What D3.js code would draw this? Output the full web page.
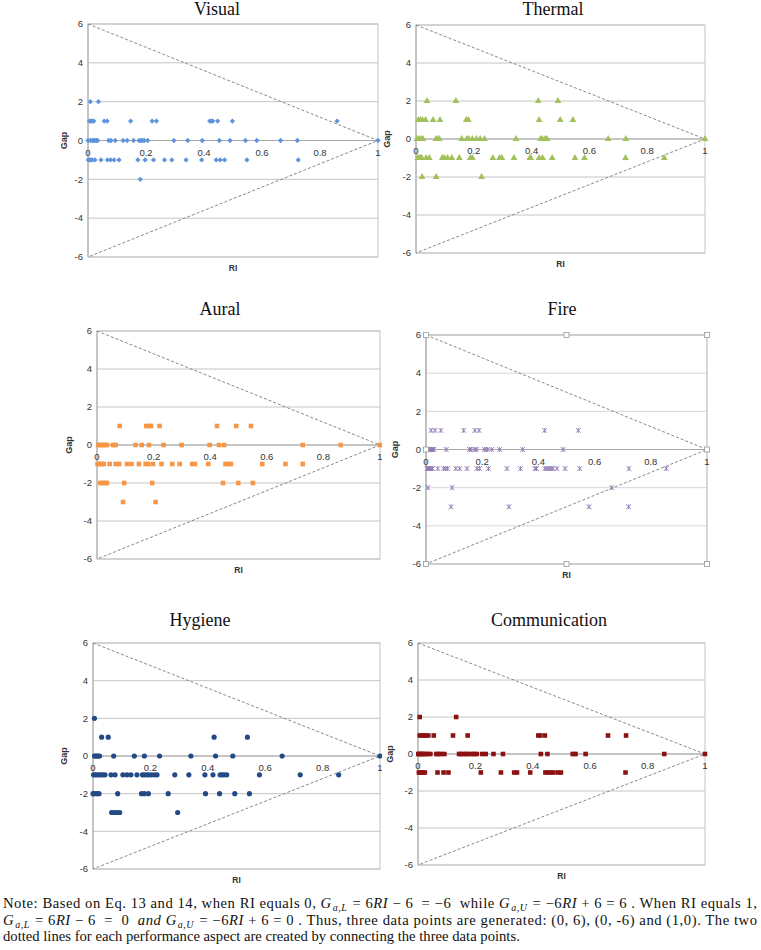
<!DOCTYPE html>
<html lang="en">
<head>
<meta charset="UTF-8">
<title>Gap vs RI</title>
<script src="https://cdn.jsdelivr.net/npm/d3@7"></script>
<style>
    body { margin: 0; background: #fff; }
    text { white-space: pre; }
</style>
</head>
<body>
<div id="chart"></div>
<script>
// ---- data: [RI, Gap] ----
const visualPts = [
    [0.008, 2], [0.036, 2],
    [0.005, 1], [0.01, 1], [0.015, 1], [0.02, 1], [0.056, 1], [0.066, 1], [0.147, 1], [0.221, 1], [0.236, 1],
    [0.42, 1], [0.425, 1], [0.43, 1], [0.447, 1], [0.498, 1], [0.859, 1],
    [0, 0], [0.008, 0], [0.015, 0], [0.02, 0], [0.024, 0], [0.029, 0], [0.033, 0], [0.071, 0], [0.079, 0],
    [0.094, 0], [0.121, 0], [0.135, 0], [0.157, 0], [0.176, 0], [0.182, 0], [0.188, 0], [0.194, 0], [0.206, 0],
    [0.296, 0], [0.344, 0], [0.394, 0], [0.453, 0], [0.49, 0], [0.543, 0], [0.582, 0], [0.664, 0], [0.722, 0], [1, 0],
    [0.001, -1], [0.006, -1], [0.01, -1], [0.015, -1], [0.024, -1], [0.045, -1], [0.067, -1], [0.078, -1], [0.09, -1],
    [0.107, -1], [0.172, -1], [0.197, -1], [0.226, -1], [0.264, -1], [0.289, -1], [0.338, -1], [0.392, -1],
    [0.442, -1], [0.456, -1], [0.471, -1], [0.548, -1], [0.725, -1],
    [0.18, -2]
];
const thermalPts = [
    [0.038, 2], [0.138, 2], [0.423, 2], [0.491, 2],
    [0.008, 1], [0.015, 1], [0.022, 1], [0.033, 1], [0.059, 1], [0.083, 1], [0.174, 1], [0.181, 1], [0.426, 1],
    [0.499, 1], [0.543, 1],
    [0.003, 0], [0.01, 0], [0.017, 0], [0.024, 0], [0.069, 0], [0.074, 0], [0.081, 0], [0.158, 0], [0.176, 0],
    [0.183, 0], [0.195, 0], [0.209, 0], [0.222, 0], [0.237, 0], [0.346, 0], [0.431, 0], [0.437, 0], [0.447, 0],
    [0.453, 0], [0.665, 0], [0.726, 0], [1, 0],
    [0.006, -1], [0.01, -1], [0.015, -1], [0.02, -1], [0.035, -1], [0.046, -1], [0.091, -1], [0.098, -1],
    [0.109, -1], [0.124, -1], [0.15, -1], [0.188, -1], [0.195, -1], [0.266, -1], [0.289, -1], [0.297, -1],
    [0.339, -1], [0.394, -1], [0.397, -1], [0.426, -1], [0.438, -1], [0.471, -1], [0.55, -1], [0.583, -1],
    [0.725, -1], [0.859, -1],
    [0.021, -2], [0.07, -2], [0.227, -2]
];
const auralPts = [
    [0.08, 1], [0.174, 1], [0.184, 1], [0.191, 1], [0.221, 1], [0.424, 1], [0.492, 1], [0.544, 1],
    [0.005, 0], [0.012, 0], [0.019, 0], [0.026, 0], [0.035, 0], [0.056, 0], [0.066, 0], [0.136, 0], [0.158, 0],
    [0.184, 0], [0.235, 0], [0.299, 0], [0.398, 0], [0.431, 0], [0.449, 0], [0.727, 0], [0.861, 0], [1, 0],
    [0.002, -1], [0.009, -1], [0.016, -1], [0.024, -1], [0.045, -1], [0.066, -1], [0.078, -1], [0.106, -1],
    [0.122, -1], [0.148, -1], [0.172, -1], [0.181, -1], [0.198, -1], [0.228, -1], [0.266, -1], [0.292, -1],
    [0.336, -1], [0.346, -1], [0.393, -1], [0.454, -1], [0.464, -1], [0.473, -1], [0.584, -1], [0.666, -1], [0.727, -1],
    [0.012, -2], [0.019, -2], [0.028, -2], [0.035, -2], [0.096, -2], [0.195, -2], [0.445, -2], [0.499, -2], [0.551, -2],
    [0.092, -3], [0.207, -3]
];
const firePts = [
    [0.018, 1], [0.032, 1], [0.053, 1], [0.134, 1], [0.174, 1], [0.189, 1], [0.422, 1], [0.542, 1],
    [0.009, 0], [0.014, 0], [0.019, 0], [0.023, 0], [0.028, 0], [0.072, 0], [0.155, 0], [0.16, 0], [0.174, 0],
    [0.179, 0], [0.208, 0], [0.219, 0], [0.234, 0], [0.262, 0], [0.344, 0], [0.488, 0],
    [0.004, -1], [0.008, -1], [0.013, -1], [0.018, -1], [0.023, -1], [0.042, -1], [0.063, -1], [0.07, -1],
    [0.077, -1], [0.106, -1], [0.12, -1], [0.146, -1], [0.181, -1], [0.191, -1], [0.222, -1], [0.288, -1],
    [0.336, -1], [0.388, -1], [0.393, -1], [0.423, -1], [0.43, -1], [0.438, -1], [0.445, -1], [0.452, -1],
    [0.466, -1], [0.495, -1], [0.547, -1], [0.722, -1], [0.855, -1],
    [0.007, -2], [0.093, -2], [0.661, -2],
    [0.089, -3], [0.295, -3], [0.58, -3], [0.721, -3]
];
const hygienePts = [
    [0.005, 2],
    [0.03, 1], [0.053, 1], [0.422, 1], [0.538, 1],
    [0.005, 0], [0.009, 0], [0.014, 0], [0.018, 0], [0.023, 0], [0.072, 0], [0.144, 0], [0.179, 0], [0.232, 0],
    [0.341, 0], [0.427, 0], [0.487, 0], [0.659, 0], [1, 0],
    [0.002, -1], [0.009, -1], [0.014, -1], [0.021, -1], [0.028, -1], [0.035, -1], [0.042, -1], [0.063, -1],
    [0.077, -1], [0.104, -1], [0.118, -1], [0.132, -1], [0.153, -1], [0.172, -1], [0.179, -1], [0.188, -1],
    [0.195, -1], [0.204, -1], [0.214, -1], [0.223, -1], [0.285, -1], [0.334, -1], [0.39, -1], [0.418, -1],
    [0.443, -1], [0.45, -1], [0.457, -1], [0.466, -1], [0.58, -1], [0.722, -1], [0.856, -1],
    [0, -2], [0.005, -2], [0.014, -2], [0.021, -2], [0.086, -2], [0.169, -2], [0.179, -2], [0.193, -2],
    [0.262, -2], [0.392, -2], [0.441, -2], [0.494, -2], [0.545, -2],
    [0.065, -3], [0.074, -3], [0.084, -3], [0.093, -3], [0.295, -3]
];
const communicationPts = [
    [0.006, 2], [0.133, 2],
    [0.006, 1], [0.013, 1], [0.02, 1], [0.027, 1], [0.036, 1], [0.055, 1], [0.122, 1], [0.173, 1], [0.419, 1],
    [0.426, 1], [0.442, 1], [0.662, 1], [0.725, 1],
    [0.001, 0], [0.006, 0], [0.011, 0], [0.015, 0], [0.02, 0], [0.027, 0], [0.034, 0], [0.043, 0], [0.064, 0],
    [0.071, 0], [0.08, 0], [0.092, 0], [0.143, 0], [0.15, 0], [0.159, 0], [0.168, 0], [0.177, 0], [0.187, 0],
    [0.196, 0], [0.205, 0], [0.224, 0], [0.236, 0], [0.263, 0], [0.296, 0], [0.428, 0], [0.451, 0], [0.539, 0],
    [0.549, 0], [0.584, 0], [0.858, 0], [1, 0],
    [0.003, -1], [0.01, -1], [0.017, -1], [0.024, -1], [0.068, -1], [0.089, -1], [0.106, -1], [0.219, -1],
    [0.289, -1], [0.335, -1], [0.345, -1], [0.391, -1], [0.444, -1], [0.453, -1], [0.462, -1], [0.472, -1],
    [0.488, -1], [0.498, -1], [0.723, -1]
];
const boundaryPts = [[0, 6], [1, 0], [0, -6]]; // (0,6) -> (1,0) -> (0,-6)
const xTicks = [0, 0.2, 0.4, 0.6, 0.8, 1];
const yTicks = [-6, -4, -2, 0, 2, 4, 6];
const titles = ["Visual", "Thermal", "Aural", "Fire", "Hygiene", "Communication"];

const noteLines = [
    [["Note: Based on Eq. 13 and 14, when RI equals 0, ", "n"], ["G", "i"], ["a,L", "sub"], [" = 6", "m"], ["RI", "i"],
     [" − 6  = −6  ", "m"], ["while ", "n"], ["G", "i"], ["a,U", "sub"], [" = −6", "m"], ["RI", "i"], [" + 6 = 6 ", "m"],
     [". When RI equals 1,", "n"]],
    [["G", "i"], ["a,L", "sub"], [" = 6", "m"], ["RI", "i"], [" − 6  =  0  ", "m"], ["and ", "i"], ["G", "i"], ["a,U", "sub"],
     [" = −6", "m"], ["RI", "i"], [" + 6 = 0 ", "m"], [". Thus, three data points are generated: (0, 6), (0, -6) and (1,0). The two", "n"]],
    [["dotted lines for each performance aspect are created by connecting the three data points.", "n"]]
];

// ---- layout ----
const width = 761, height = 950;
const panels = [
    { pts: visualPts, mark: "diamond", color: "#5f94db", l: 88, r: 378, t: 24, b: 257, tx: 217, ty: 15, gap: 21 },
    { pts: thermalPts, mark: "triangle", color: "#a2c15c", l: 416, r: 705, t: 25, b: 253, tx: 553, ty: 15, gap: 26 },
    { pts: auralPts, mark: "square", color: "#f79646", l: 97, r: 380, t: 331, b: 559, tx: 220, ty: 315, gap: 25, clip: 382 },
    { pts: firePts, mark: "star", color: "#8d76b3", l: 426, r: 707, t: 335, b: 564, tx: 562, ty: 315, gap: 28, handles: true },
    { pts: hygienePts, mark: "circle", color: "#234a85", l: 93, r: 380, t: 643, b: 869, tx: 200, ty: 626, gap: 26, clip: 382 },
    { pts: communicationPts, mark: "square", color: "#8c1212", l: 418, r: 705, t: 643, b: 865, tx: 549, ty: 626, gap: 25 }
];

const svg = d3.select("#chart").append("svg")
    .attr("width", width).attr("height", height)
    .style("font-family", "'Liberation Sans', Arial, sans-serif");

svg.append("defs").selectAll("clipPath")
    .data(panels.filter(p => p.clip))
    .join("clipPath").attr("id", (p, i) => "clip" + i)
    .append("rect").attr("x", 0).attr("y", p => p.t - 40).attr("width", p => p.clip).attr("height", p => p.b - p.t + 80);

let clipIdx = 0;
panels.forEach((p, i) => {
    const g = svg.append("g");
    if (p.clip) g.attr("clip-path", `url(#clip${clipIdx++})`);

    const x = d3.scaleLinear().domain([0, 1]).range([p.l, p.r]);
    const y = d3.scaleLinear().domain([-6, 6]).range([p.b, p.t]);

    // gridlines
    g.append("g").selectAll("line").data(yTicks).join("line")
        .attr("x1", p.l).attr("x2", p.r)
        .attr("y1", d => y(d)).attr("y2", d => y(d))
        .attr("stroke", p.handles ? "#d6d6d6" : "#c4c4c4").attr("stroke-width", 1);

    // plot border
    g.append("rect")
        .attr("x", p.l).attr("y", p.t).attr("width", p.r - p.l).attr("height", p.b - p.t)
        .attr("fill", "none").attr("stroke", p.handles ? "#b0b0b0" : "#c4c4c4");

    // axes lines
    g.append("line").attr("x1", p.l).attr("x2", p.r).attr("y1", y(0)).attr("y2", y(0))
        .attr("stroke", "#a8a8a8");
    g.append("line").attr("x1", p.l).attr("x2", p.l).attr("y1", p.t).attr("y2", p.b)
        .attr("stroke", "#a8a8a8");

    // y tick labels
    g.append("g").selectAll("text").data(yTicks).join("text")
        .attr("x", p.l - 5).attr("y", d => y(d) + 3.3)
        .attr("text-anchor", "end").attr("font-size", 9.5).attr("fill", "#333")
        .text(d => d);

    // x tick labels (sit under the zero line)
    g.append("g").selectAll("text").data(xTicks).join("text")
        .attr("x", d => x(d)).attr("y", y(0) + 15)
        .attr("text-anchor", "middle").attr("font-size", 9.5).attr("fill", "#333")
        .text(d => d);

    // axis titles
    g.append("text")
        .attr("transform", `translate(${p.l - p.gap},${y(0)}) rotate(-90)`)
        .attr("text-anchor", "middle").attr("font-size", 9).attr("font-weight", "bold").attr("fill", "#333")
        .text("Gap");
    g.append("text")
        .attr("x", (p.l + p.r) / 2).attr("y", p.b + 14)
        .attr("text-anchor", "middle").attr("font-size", 8.5).attr("font-weight", "bold").attr("fill", "#333")
        .text("RI");

    // dotted boundary lines
    g.append("path")
        .attr("d", d3.line().x(d => x(d[0])).y(d => y(d[1]))(boundaryPts))
        .attr("fill", "none").attr("stroke", "#7a7a7a").attr("stroke-width", 0.9)
        .attr("stroke-dasharray", "3,2");

    // markers
    const mg = g.append("g");
    if (p.mark === "star") {
        const s = 2.4;
        mg.selectAll("path").data(p.pts).join("path")
            .attr("transform", d => `translate(${x(d[0])},${y(d[1])})`)
            .attr("d", `M${-s},${-s}L${s},${s}M${-s},${s}L${s},${-s}M0,${-s}L0,${s}`)
            .attr("fill", "none").attr("stroke", p.color).attr("stroke-width", 0.9);
    } else {
        const types = {
            diamond: [d3.symbolSquare, 14, 45],
            triangle: [d3.symbolTriangle, 20, 0],
            square: [d3.symbolSquare, 21, 0],
            circle: [d3.symbolCircle, 21, 0]
        };
        const [type, size, rot] = types[p.mark];
        const sym = d3.symbol().type(type).size(size);
        mg.selectAll("path").data(p.pts).join("path")
            .attr("transform", d => `translate(${x(d[0])},${y(d[1])}) rotate(${rot})`)
            .attr("d", sym)
            .attr("fill", p.color);
    }

    // selection handles on the Fire plot area
    if (p.handles) {
        const hx = [p.l, (p.l + p.r) / 2, p.r];
        const hy = [p.t, y(0), p.b];
        const hs = [];
        hx.forEach((a, ai) => hy.forEach((b, bi) => { if (!(ai === 1 && bi === 1)) hs.push([a, b]); }));
        g.append("g").selectAll("rect").data(hs).join("rect")
            .attr("x", d => d[0] - 2.5).attr("y", d => d[1] - 2.5)
            .attr("width", 5).attr("height", 5)
            .attr("fill", "#fff").attr("stroke", "#9a9a9a").attr("stroke-width", 0.8);
    }

    // panel title
    svg.append("text")
        .attr("x", p.tx).attr("y", p.ty)
        .attr("text-anchor", "middle")
        .style("font-family", "'Liberation Serif', 'Times New Roman', serif")
        .attr("font-size", 18).attr("fill", "#111")
        .text(titles[i]);
});

// ---- note under the figure ----
const noteY = [908, 925, 941];
const noteG = svg.append("g")
    .style("font-family", "'Liberation Serif', 'Times New Roman', serif")
    .attr("fill", "#111");
const noteTexts = noteLines.map((segs, li) => {
    const t = noteG.append("text").attr("x", 3).attr("y", noteY[li]).attr("font-size", 14);
    let shifted = false;
    segs.forEach(([s, kind]) => {
        const ts = t.append("tspan").text(s);
        if (kind === "i" || kind === "sub") ts.attr("font-style", "italic");
        if (kind === "sub") { ts.attr("dy", 2.5).attr("dx", 1).attr("font-size", 9.5); shifted = true; }
        else if (shifted) { ts.attr("dy", -2.5).attr("dx", 1); shifted = false; }
    });
    return t;
});
// fit font so the last line has the width seen in the picture, then fit the two full lines
const last = noteTexts[2].node().getComputedTextLength();
const fs = 14 * 517 / last;
noteTexts.forEach(t => t.attr("font-size", fs));
noteTexts.slice(0, 2).forEach(t => {
    t.selectAll("tspan").filter(function () { return d3.select(this).attr("font-size"); })
        .attr("font-size", fs * 0.68);
    t.attr("textLength", 754).attr("lengthAdjust", "spacing");
});
</script>
</body>
</html>
